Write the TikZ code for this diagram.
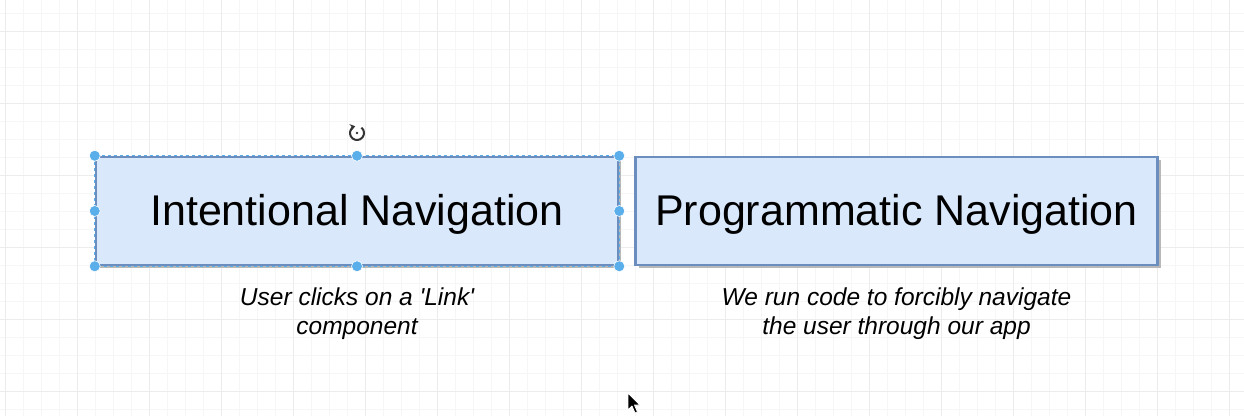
\documentclass[tikz,border=0pt]{standalone}
\usepackage{fontspec}
\setmainfont{Liberation Sans}
\usetikzlibrary{positioning,shadows,arrows.meta}
\definecolor{boxfill}{HTML}{DAE8FC}
\definecolor{boxline}{HTML}{6C8EBF}
\definecolor{handlefill}{HTML}{5AAEEA}
\definecolor{gridminor}{HTML}{F6F6F6}
\definecolor{gridmajor}{HTML}{ECECEC}
\tikzset{
  navbox/.style={draw=boxline,fill=boxfill,line width=2.5pt,
    minimum width=522pt,minimum height=108pt,inner sep=0pt,
    text height=37pt,text depth=9pt,
    font=\fontsize{43}{46}\selectfont,
    drop shadow={shadow xshift=3pt,shadow yshift=-3pt,fill=black!28,opacity=1}},
  navnote/.style={font=\fontsize{24.5}{29}\selectfont\itshape,align=center,inner sep=0pt},
  selhandle/.style={circle,fill=handlefill,draw=white,line width=0.6pt,minimum size=11pt,inner sep=0pt}
}
\begin{document}
\begin{tikzpicture}[x=1pt,y=-1pt,>=stealth]
  \useasboundingbox (0,0) rectangle (1244,416);
  \fill[white] (0,0) rectangle (1244,416);
  % grid
  \foreach \x in {5,23,...,1244} \draw[gridminor,line width=0.8pt] (\x,0) -- (\x,416);
  \foreach \y in {13,31,...,416} \draw[gridminor,line width=0.8pt] (0,\y) -- (1244,\y);
  \foreach \x in {5,77,...,1244} \draw[gridmajor,line width=0.8pt] (\x,0) -- (\x,416);
  \foreach \y in {31,103,...,416} \draw[gridmajor,line width=0.8pt] (0,\y) -- (1244,\y);
  % boxes
  \node[navbox] (intent) at (357,211) {Intentional Navigation};
  \node[navbox] (prog) at (896.5,211) {Programmatic Navigation};
  \node[navnote,below=21pt of intent] (intentnote) {User clicks on a \textquotesingle Link\textquotesingle\\component};
  \node[navnote,below=21pt of prog] (prognote) {We run code to forcibly navigate\\the user through our app};
  % selection of the first box
  \draw[handlefill,dashed,line width=1pt] (intent.north west) rectangle (intent.south east);
  \foreach \a in {north west,north,north east,west,east,south west,south,south east}
    \node[selhandle] at (intent.\a) {};
  % rotate handle
  \coordinate (rot) at (357,133);
  \draw[black!80,line width=2pt,-{Stealth[length=5pt,width=7pt]}] ([shift={(-50:7)}]rot) arc[start angle=-50,end angle=255,radius=7];
  \fill[black!80] (rot) circle (1.3pt);
  % mouse pointer
  \filldraw[black,draw=white,line width=0.8pt,line join=round]
    (628,393) -- (628,410) -- (632,406) -- (635,413) -- (637.5,412) -- (634.5,405) -- (640,405) -- cycle;
\end{tikzpicture}
\end{document}
